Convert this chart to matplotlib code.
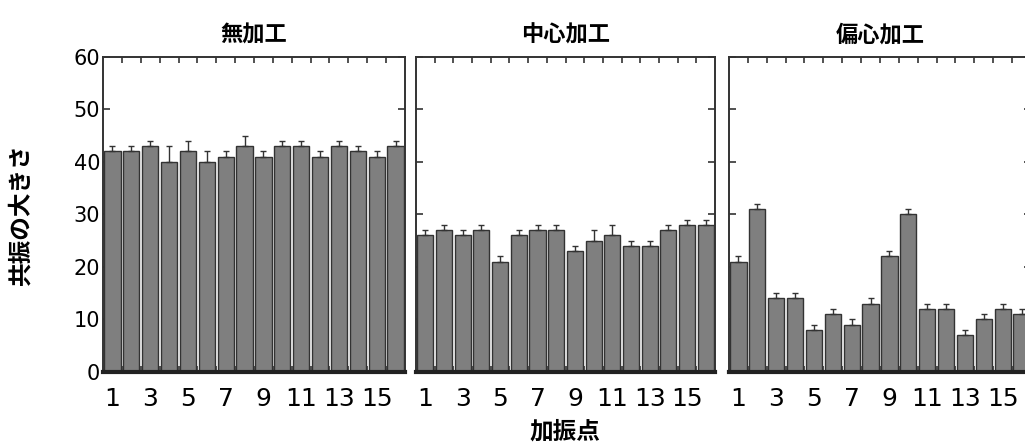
#!/usr/bin/env python3

import matplotlib
matplotlib.use('Agg')
import matplotlib.pyplot as plt
import numpy as np

plt.rcParams['font.family'] = ['Noto Sans CJK JP', 'DejaVu Sans']

# excitation points 1..16
points = list(range(1, 17))
tick_points = [1, 3, 5, 7, 9, 11, 13, 15]

titles = ['無加工', '中心加工', '偏心加工']

# resonance magnitude per excitation point
untreated = [42, 42, 43, 40, 42, 40, 41, 43, 41, 43, 43, 41, 43, 42, 41, 43]
untreated_err = [1, 1, 1, 3, 2, 2, 1, 2, 1, 1, 1, 1, 1, 1, 1, 1]

center = [26, 27, 26, 27, 21, 26, 27, 27, 23, 25, 26, 24, 24, 27, 28, 28]
center_err = [1, 1, 1, 1, 1, 1, 1, 1, 1, 2, 2, 1, 1, 1, 1, 1]

eccentric = [21, 31, 14, 14, 8, 11, 9, 13, 22, 30, 12, 12, 7, 10, 12, 11]
eccentric_err = [1, 1, 1, 1, 1, 1, 1, 1, 1, 1, 1, 1, 1, 1, 1, 1]

values = [untreated, center, eccentric]
errors = [untreated_err, center_err, eccentric_err]

fig = plt.figure(figsize=(10.25, 4.47), dpi=100)

lefts = [0.1005, 0.4059, 0.7112]
widths = [0.2946, 0.2917, 0.2946]
bottom, height = 0.168, 0.705

edge = '#333333'
num_font = ['Liberation Sans Narrow', 'DejaVu Sans Condensed', 'DejaVu Sans']

for i in range(3):
    ax = fig.add_axes([lefts[i], bottom, widths[i], height])
    x = np.array(points)
    err = np.array(errors[i])
    ax.bar(x, values[i], width=0.86, color='#7f7f7f', edgecolor=edge,
           linewidth=1.0, zorder=2)
    ax.errorbar(x, values[i], yerr=[np.zeros_like(err), err], fmt='none',
                ecolor=edge, elinewidth=1.0, capsize=2.5, capthick=1.0, zorder=3)

    ax.set_xlim(0.5, 16.5)
    ax.set_ylim(0, 60)

    ax.set_xticks(tick_points)
    ax.set_xticklabels([str(p) for p in tick_points], family=num_font,
                       fontsize=18)
    ax.tick_params(axis='x', which='major', length=0, pad=11)
    ax.set_xticks(np.arange(1.5, 16.5, 1.0), minor=True)
    ax.tick_params(axis='x', which='minor', direction='in', length=4,
                   width=1.2, top=True, bottom=True, color=edge)

    ax.set_yticks(range(0, 61, 10))
    ax.tick_params(axis='y', direction='in', length=5, width=1.2,
                   left=True, right=True, color=edge, pad=2)
    if i == 0:
        ax.set_yticklabels([str(v) for v in range(0, 61, 10)],
                           family='DejaVu Sans', fontsize=15)
    else:
        ax.set_yticklabels([])

    for side in ['left', 'right', 'top']:
        ax.spines[side].set_color(edge)
        ax.spines[side].set_linewidth(1.4)
    ax.spines['bottom'].set_color('#222222')
    ax.spines['bottom'].set_linewidth(3.0)
    ax.spines['bottom'].set_zorder(4)

    ax.set_title(titles[i], fontsize=16, fontweight='bold', pad=11)

fig.text(0.02, 0.52, '共振の大きさ', rotation=90, fontsize=17,
         fontweight='bold', ha='center', va='center')
fig.text(0.551, 0.035, '加振点', fontsize=17, fontweight='bold',
         ha='center', va='center')

plt.savefig('out.png', dpi=100)
